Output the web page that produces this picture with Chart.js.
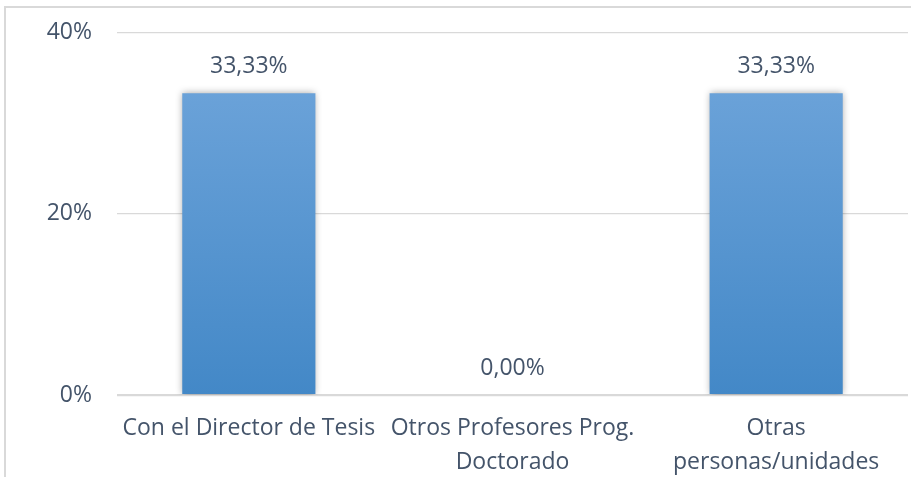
<!DOCTYPE html>
<html>
<head>
<meta charset="utf-8">
<script src="https://cdn.jsdelivr.net/npm/chart.js@4"></script>
<style>
    html, body { margin: 0; padding: 0; background: #fff; overflow: hidden; }
    #frame {
        position: absolute; left: 4px; top: 6px; right: 0; bottom: -10px;
        border-top: 2px solid #d9d9d9; border-left: 2px solid #d9d9d9;
    }
    #wrap { position: absolute; left: 0; top: -6px; width: 911px; height: 483px; }
</style>
</head>
<body>
<div id="frame"></div>
<div id="wrap"><canvas id="chart"></canvas></div>
<script>
const categories = [
    ['Con el Director de Tesis'],
    ['Otros Profesores Prog.', 'Doctorado'],
    ['Otras', 'personas/unidades']
];
const values = [33.33, 0, 33.33];
const yMax = 40;
const yStep = 20;

const textColor = '#44546a';
const gridColor = '#d9d9d9';

function formatPct(v) {
    return v.toFixed(2).replace('.', ',') + '%';
}

// sombra de las barras y etiquetas de valor
const barExtras = {
    id: 'barExtras',
    beforeDatasetsDraw(chart) {
        const ctx = chart.ctx;
        ctx.save();
        ctx.shadowColor = 'rgba(0,0,0,0.35)';
        ctx.shadowBlur = 7;
        ctx.shadowOffsetX = 0;
        ctx.shadowOffsetY = 0;
    },
    afterDatasetsDraw(chart) {
        const ctx = chart.ctx;
        ctx.restore();
        ctx.save();
        ctx.fillStyle = textColor;
        ctx.font = '23px "Open Sans"';
        ctx.textAlign = 'center';
        ctx.textBaseline = 'bottom';
        chart.getDatasetMeta(0).data.forEach(function(bar, i) {
            ctx.fillText(formatPct(values[i]), bar.x, bar.y - 15);
        });
        ctx.restore();
    }
};

const ctx = document.getElementById('chart').getContext('2d');
new Chart(ctx, {
    type: 'bar',
    data: {
        labels: categories,
        datasets: [{
            data: values,
            backgroundColor: function(context) {
                const area = context.chart.chartArea;
                if (!area) return '#5b9bd5';
                const g = context.chart.ctx.createLinearGradient(0, area.top, 0, area.bottom);
                g.addColorStop(0, '#72a7dc');
                g.addColorStop(1, '#4388c7');
                return g;
            },
            borderWidth: 0,
            barPercentage: 0.505,
            categoryPercentage: 1
        }]
    },
    options: {
        responsive: true,
        maintainAspectRatio: false,
        animation: false,
        layout: { padding: { top: 26, right: 3, left: 0, bottom: 0 } },
        plugins: {
            legend: { display: false },
            tooltip: { enabled: false }
        },
        scales: {
            x: {
                grid: { display: false, drawTicks: false },
                border: { display: false },
                ticks: {
                    color: textColor,
                    font: { family: 'Open Sans', size: 23, lineHeight: 1.45 },
                    padding: 17,
                    maxRotation: 0
                },
                afterFit: function(scale) { scale.height = 82; }
            },
            y: {
                min: 0,
                max: yMax,
                grid: {
                    color: gridColor,
                    lineWidth: function(c) { return c.tick && c.tick.value === 0 ? 2.2 : 1.3; },
                    drawTicks: false
                },
                border: { display: false },
                ticks: {
                    stepSize: yStep,
                    color: textColor,
                    font: { family: 'Open Sans', size: 23 },
                    padding: 25,
                    callback: function(v) { return v + '%'; }
                },
                afterFit: function(scale) { scale.width = 117; }
            }
        }
    },
    plugins: [barExtras]
});
</script>
</body>
</html>
